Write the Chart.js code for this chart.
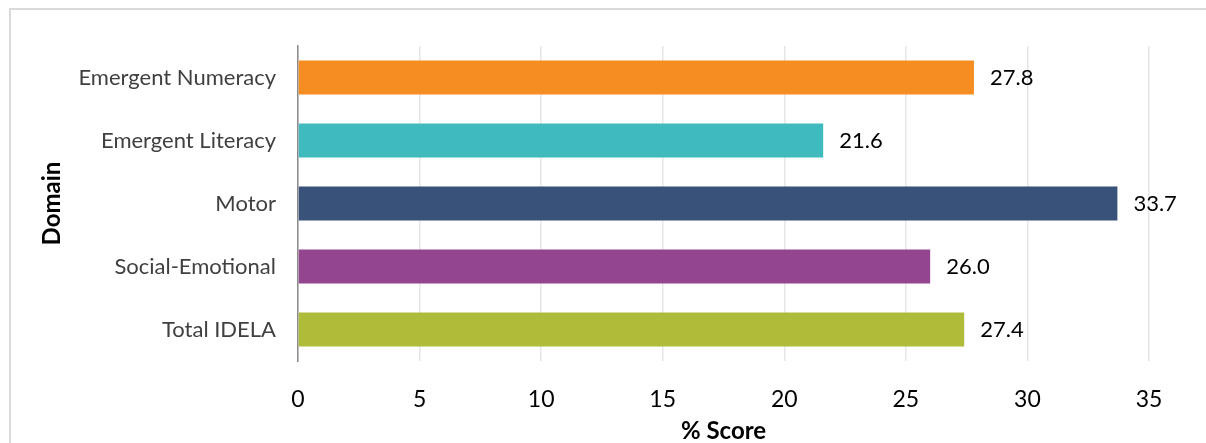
<!DOCTYPE html>
<html>
<head>
<meta charset="utf-8">
<script src="https://cdn.jsdelivr.net/npm/chart.js@4/dist/chart.umd.min.js"></script>
<style>
  body { margin: 0; background: #fff; overflow: hidden; }
  #frame { position: absolute; left: 9px; top: 8px; width: 1240px; height: 480px; border: 2px solid #d9d9d9; }
  #wrap { position: absolute; left: 0; top: 0; width: 1206px; height: 443px; }
</style>
</head>
<body>
<div id="frame"></div>
<div id="wrap"><canvas id="chart"></canvas></div>
<script>
"use strict";

const domains = ["Emergent Numeracy", "Emergent Literacy", "Motor", "Social-Emotional", "Total IDELA"];
const scores = [27.8, 21.6, 33.7, 26.0, 27.4];
const barColors = ["#F58D22", "#3FBBBE", "#385279", "#93458F", "#AFBC3A"];
const xTicks = [0, 5, 10, 15, 20, 25, 30, 35];

const FONT = "Lato, 'Open Sans', sans-serif";

const valueLabels = {
    id: "valueLabels",
    afterDatasetsDraw(chart) {
        const ctx = chart.ctx;
        const meta = chart.getDatasetMeta(0);
        ctx.save();
        ctx.font = "22px " + FONT;
        ctx.fillStyle = "#000";
        ctx.textBaseline = "middle";
        ctx.textAlign = "left";
        meta.data.forEach((bar, i) => {
            ctx.fillText(scores[i].toFixed(1), bar.x + 16, bar.y);
        });
        ctx.restore();
    }
};

function buildChart() {
    const ctx = document.querySelector("#chart").getContext("2d");
    new Chart(ctx, {
        type: "bar",
        data: {
            labels: domains,
            datasets: [{
                data: scores,
                backgroundColor: barColors,
                barPercentage: 0.54,
                categoryPercentage: 1
            }]
        },
        options: {
            indexAxis: "y",
            responsive: false,
            animation: false,
            layout: { padding: { top: 46, right: 57, left: 0, bottom: 0 } },
            plugins: { legend: { display: false }, tooltip: { enabled: false } },
            scales: {
                x: {
                    min: 0,
                    max: 35,
                    afterBuildTicks(scale) {
                        scale.ticks = xTicks.map(v => ({ value: v }));
                    },
                    afterFit(scale) { scale.height = 82; },
                    grid: { color: "#e6e6e6", lineWidth: 1.5, drawTicks: false },
                    border: { display: false },
                    ticks: { color: "#000", padding: 25, font: { family: FONT, size: 23 } },
                    title: {
                        display: true,
                        text: "% Score",
                        color: "#000",
                        padding: 0,
                        font: { family: FONT, size: 24, weight: "bold", lineHeight: 1 }
                    }
                },
                y: {
                    afterFit(scale) { scale.width = 298; },
                    grid: { display: false, drawTicks: false },
                    border: { display: true, color: "#8c8c8c", width: 1.5 },
                    ticks: { color: "#404040", padding: 22, font: { family: FONT, size: 22 } },
                    title: {
                        display: true,
                        text: "Domain",
                        color: "#000",
                        padding: { top: 40, bottom: 0 },
                        font: { family: FONT, size: 24, weight: "bold", lineHeight: 1 }
                    }
                }
            }
        },
        plugins: [valueLabels]
    });
}

const canvas = document.querySelector("#chart");
canvas.width = 1206;
canvas.height = 443;
buildChart();
</script>
</body>
</html>
